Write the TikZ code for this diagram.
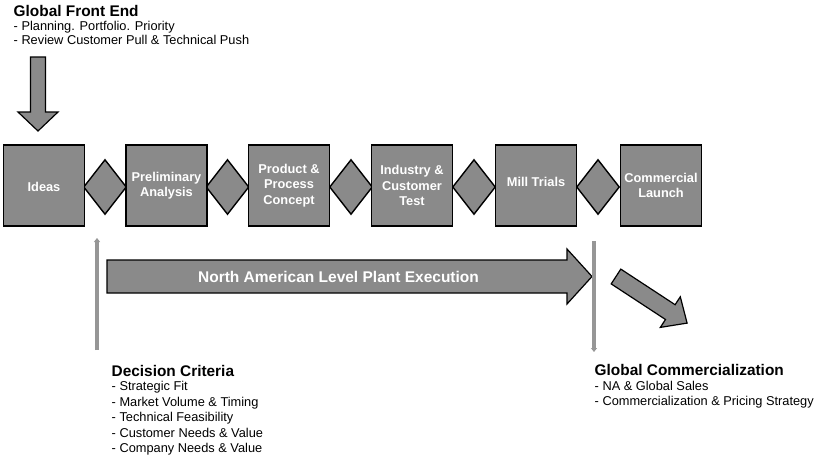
\documentclass[tikz,border=0pt]{standalone}
\usepackage{fontspec}
\setmainfont{Liberation Sans}
\usetikzlibrary{shapes.geometric,arrows.meta}
\definecolor{boxgray}{RGB}{138,138,138}
\definecolor{linegray}{RGB}{150,150,150}
\tikzset{
  stagebox/.style={draw=black,line width=1.4pt,fill=boxgray,minimum width=81pt,minimum height=81pt,inner sep=0pt,align=center,text=white,font=\fontsize{12.8}{15.5}\selectfont\bfseries},
  gate/.style={shape=diamond,draw=black,line width=1.4pt,fill=boxgray,minimum width=43pt,minimum height=55pt,inner sep=0pt},
  bigarrow/.style={draw=black,line width=1.2pt,fill=boxgray,line join=miter},
  headtxt/.style={anchor=base west,inner sep=0pt,font=\fontsize{15.4}{16}\selectfont\bfseries},
  listtxt/.style={anchor=base west,inner sep=0pt,font=\fontsize{12.8}{15}\selectfont},
  marker/.style={draw=linegray,line width=3.5pt}
}
\begin{document}
\begin{tikzpicture}[x=1pt,y=-1pt]
\useasboundingbox (0,0) rectangle (822,461);
% gates (behind boxes)
\node[gate] (g1) at (105,187) {};
\node[gate] (g2) at (227.5,187) {};
\node[gate] (g3) at (351,187) {};
\node[gate] (g4) at (474,187) {};
\node[gate] (g5) at (598,187) {};
% stages
\node[stagebox] (ideas) at (44,185.5) {\raisebox{-1pt}[9.2pt][0pt]{Ideas}};
\node[stagebox] (prelim) at (166.5,185.5) {Preliminary\\Analysis};
\node[stagebox] (prod) at (289,185.5) {Product \&\\Process\\Concept};
\node[stagebox] (ind) at (412,185.5) {Industry \&\\Customer\\Test};
\node[stagebox] (mill) at (536,185.5) {\raisebox{3.5pt}[9.2pt][0pt]{Mill Trials}};
\node[stagebox] (comm) at (661,185.5) {Commercial\\Launch};
% global front end arrow
\draw[bigarrow] (30.5,57) -- (45.5,57) -- (45.5,112) -- (58,112) -- (38,131) -- (18,112) -- (30.5,112) -- cycle;
% North American arrow
\draw[bigarrow] (107,260) -- (567,260) -- (567,249) -- (592,276.5) -- (567,304) -- (567,293) -- (107,293) -- cycle;
\node[text=white,font=\fontsize{15.5}{16}\selectfont\bfseries,inner sep=0pt] (na) at (338.5,276.5) {North American Level Plant Execution};
% diagonal arrow
\draw[bigarrow] (620.8,269.1) -- (675.1,304.7) -- (680.3,296.8) -- (687.1,323.1) -- (660.3,327.4) -- (665.5,319.5) -- (611.2,283.9) -- cycle;
% markers
\coordinate (lb) at (97,350);
\coordinate (lt) at (97,238);
\coordinate (rt) at (594,241);
\coordinate (rb) at (594,352);
\draw[marker,-{Triangle[width=6pt,length=4pt]}] (lb) -- (lt);
\draw[marker,-{Triangle[width=6pt,length=4pt]}] (rt) -- (rb);
% texts
\node[headtxt] (gfe) at (13.5,16) {Global Front End};
\node[listtxt] (gfe1) at (13.5,30.7) {- Planning. Portfolio. Priority};
\node[listtxt] (gfe2) at (13.5,44) {- Review Customer Pull \& Technical Push};
\node[headtxt] (dc) at (111.5,376) {Decision Criteria};
\node[listtxt] (dc1) at (111.5,390.5) {- Strategic Fit};
\node[listtxt] (dc2) at (111.5,406) {- Market Volume \& Timing};
\node[listtxt] (dc3) at (111.5,421.5) {- Technical Feasibility};
\node[listtxt] (dc4) at (111.5,437) {- Customer Needs \& Value};
\node[listtxt] (dc5) at (111.5,452.5) {- Company Needs \& Value};
\node[headtxt] (gc) at (594.5,375.7) {Global Commercialization};
\node[listtxt] (gc1) at (594.5,390) {- NA \& Global Sales};
\node[listtxt] (gc2) at (594.5,405) {- Commercialization \& Pricing Strategy};
\end{tikzpicture}
\end{document}
